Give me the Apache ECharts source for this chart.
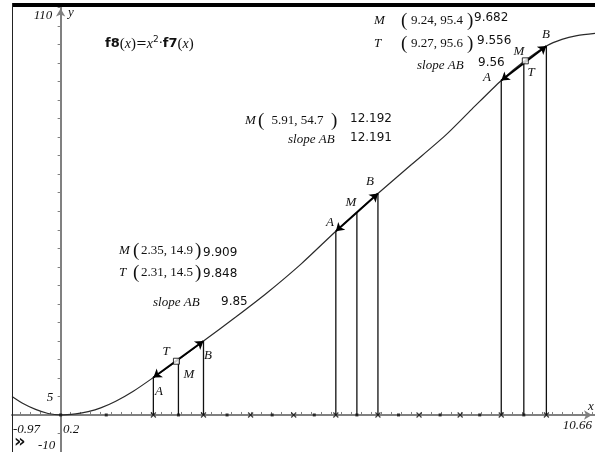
<!DOCTYPE html>
<html>
<head>
<meta charset="utf-8">
<script src="https://cdn.jsdelivr.net/npm/echarts/dist/echarts.min.js"></script>
<style>
  html, body { margin: 0; padding: 0; background: #fff; }
  #c { width: 595px; height: 452px; }
</style>
</head>
<body>
<div id="c"></div>
<script>
// f8(x) = x^2 * f7(x), sampled across the window
const curveX = [-0.97, -0.75, -0.5, -0.25, 0, 0.3, 0.55, 0.8, 1.1, 1.45, 1.85, 2.35, 2.85, 3.5, 4.12, 4.8, 5.49, 5.91, 6.33, 7.0, 7.67, 8.2, 8.79, 9.24, 9.69, 10.0, 10.3, 10.66];
const curveY = [5.0, 3.1, 1.5, 0.4, 0, 0.3, 0.9, 1.9, 3.7, 6.4, 10.1, 14.9, 19.95, 26.5, 33.0, 40.8, 49.6, 54.7, 59.8, 67.6, 75.4, 82.5, 90.3, 95.4, 99.6, 101.4, 102.4, 103.0];

// secant end points A, B and midpoints M at the three spots
const pointAx = [1.85, 5.49, 8.79];
const pointAy = [10.1, 49.6, 90.3];
const pointBx = [2.85, 6.33, 9.69];
const pointBy = [19.95, 59.8, 99.6];
const pointMx = [2.35, 5.91, 9.24];
const pointMy = [14.9, 54.7, 95.4];

// tangent points T (slope equal to slope AB)
const pointTx = [2.31, 9.27];
const pointTy = [14.5, 95.6];

// step marks along the x-axis
const dotMarks = [0, 0.91, 2.35, 3.32, 4.22, 5.06, 5.91, 6.74, 7.57, 8.36, 9.24];
const crossMarks = [1.85, 2.85, 3.79, 4.65, 5.49, 6.33, 7.15, 7.97, 8.79, 9.69];

// window and scale
const xMin = -0.97, xMax = 10.66, yMin = -10, yMax = 110;
const xScale = 0.2, yScale = 5;

// tick values every xScale, anchored at the origin
const xTicks = [];
for (let k = Math.ceil(xMin / xScale); k * xScale <= xMax; k++) xTicks.push(+(k * xScale).toFixed(2));

const chart = echarts.init(document.getElementById('c'), null, { renderer: 'canvas' });

const curveData = curveX.map((x, i) => [x, curveY[i]]);
const dropData = [];
for (let i = 0; i < pointAx.length; i++) {
  dropData.push([pointAx[i], pointAy[i]], [pointMx[i], pointMy[i]], [pointBx[i], pointBy[i]]);
}
const secantData = pointAx.map((x, i) => ({ coords: [[x, pointAy[i]], [pointBx[i], pointBy[i]]] }));

const serifIt = 'italic 13px "Liberation Serif", "DejaVu Serif", serif';
const serif = '13px "Liberation Serif", "DejaVu Serif", serif';
const paren = '19px "Liberation Serif", "DejaVu Serif", serif';
const sans = '12px "DejaVu Sans", sans-serif';

function txt(text, x, y, font, align) {
  return {
    type: 'text', x: x, y: y, z: 20,
    style: { text: text, font: font, fill: '#111', align: align || 'left', verticalAlign: 'middle' }
  };
}
// "M ( x, y ) value" row; pl / pr are the left and right bracket positions
function coordRow(label, coords, valueText, x, y, pl, pr, vx, vy) {
  return [
    txt(label, x, y, serifIt),
    txt('(', pl, y, paren),
    txt(coords, (pl + pr) / 2 + 3, y, serif, 'center'),
    txt(')', pr, y, paren),
    txt(valueText, vx, vy, sans)
  ];
}

const labels = [].concat(
  // window bounds and scales
  [
    txt('110', 43, 16, serifIt, 'center'),
    txt('y', 71, 13, serifIt, 'center'),
    txt('5', 50, 398, serifIt, 'center'),
    txt('-0.97', 13, 430, serifIt),
    txt('0.2', 63, 430, serifIt),
    txt('-10', 38, 446, serifIt),
    txt('x', 591, 407, serifIt, 'center'),
    txt('10.66', 592, 426, serifIt, 'right'),
    {
      type: 'text', x: 14, y: 442, z: 20,
      style: { text: '»', font: 'bold 18px "DejaVu Sans", sans-serif', fill: '#111', verticalAlign: 'middle' }
    },
    {
      type: 'text', x: 105, y: 44, z: 20,
      style: {
        text: '{b|f8}{p|(}{i|x}{p|)}{n|=}{i|x}{s|2}{n|·}{b|f7}{p|(}{i|x}{p|)}',
        verticalAlign: 'middle',
        rich: {
          b: { font: 'bold 13px "DejaVu Sans", sans-serif', fill: '#111' },
          p: { font: '15px "Liberation Serif", serif', fill: '#111' },
          i: { font: 'italic 14px "Liberation Serif", serif', fill: '#111' },
          n: { font: '13px "DejaVu Sans", sans-serif', fill: '#111' },
          s: { font: '9px "DejaVu Sans", sans-serif', fill: '#111', padding: [0, 0, 9, 0] }
        }
      }
    }
  ],
  // lower spot
  coordRow('M', '2.35, 14.9', '9.909', 119, 251, 133, 195, 203, 253),
  coordRow('T', '2.31, 14.5', '9.848', 119, 273, 133, 195, 203, 274),
  [txt('slope AB', 153, 303, serifIt), txt('9.85', 221, 302, sans)],
  [
    txt('T', 166, 352, serifIt, 'center'),
    txt('M', 189, 375, serifIt, 'center'),
    txt('A', 159, 392, serifIt, 'center'),
    txt('B', 208, 356, serifIt, 'center')
  ],
  // middle spot
  coordRow('M', '5.91, 54.7', '12.192', 245, 121, 258, 331, 350, 119),
  [txt('slope AB', 288, 140, serifIt), txt('12.191', 350, 138, sans)],
  [
    txt('A', 330, 223, serifIt, 'center'),
    txt('M', 351, 203, serifIt, 'center'),
    txt('B', 370, 182, serifIt, 'center')
  ],
  // upper spot
  coordRow('M', '9.24, 95.4', '9.682', 374, 21, 401, 467, 474, 18),
  coordRow('T', '9.27, 95.6', '9.556', 374, 44, 401, 467, 477, 41),
  [txt('slope AB', 417, 66, serifIt), txt('9.56', 478, 63, sans)],
  [
    txt('A', 487, 78, serifIt, 'center'),
    txt('M', 519, 52, serifIt, 'center'),
    txt('T', 531, 73, serifIt, 'center'),
    txt('B', 546, 35, serifIt, 'center')
  ],
  // screen frame
  [
    { type: 'rect', z: 30, shape: { x: 12, y: 3, width: 583, height: 4 }, style: { fill: '#000' } },
    { type: 'line', z: 30, shape: { x1: 12.5, y1: 3, x2: 12.5, y2: 452 }, style: { stroke: '#222', lineWidth: 1 } }
  ]
);

const option = {
  animation: false,
  backgroundColor: '#fff',
  grid: { left: 12, right: -1, top: 7.5, bottom: -2, containLabel: false },
  xAxis: {
    type: 'value', min: xMin, max: xMax,
    splitLine: { show: false },
    axisLabel: { show: false },
    axisLine: { onZero: true, symbol: ['none', 'arrow'], symbolSize: [7, 8], symbolOffset: [0, -3],
      lineStyle: { color: '#808080', width: 2 } },
    axisTick: { show: true, customValues: xTicks, length: 3, inside: true, lineStyle: { color: '#808080', width: 1 } }
  },
  yAxis: {
    type: 'value', min: yMin, max: yMax, interval: yScale,
    splitLine: { show: false },
    axisLabel: { show: false },
    axisLine: { onZero: true, symbol: ['none', 'arrow'], symbolSize: [7, 8], symbolOffset: [0, -1],
      lineStyle: { color: '#808080', width: 2 } },
    axisTick: { show: true, length: 3, lineStyle: { color: '#808080', width: 1 } }
  },
  graphic: labels,
  series: [
    {
      name: 'f8', type: 'line', data: curveData, showSymbol: false,
      smooth: 0.25, clip: true,
      lineStyle: { color: '#2a2a2a', width: 1.2 }, z: 3
    },
    {
      name: 'drop lines', type: 'custom', data: dropData, z: 4,
      renderItem: function (params, api) {
        const x = api.value(0), y = api.value(1);
        const p0 = api.coord([x, 0]);
        const p1 = api.coord([x, y]);
        return {
          type: 'line',
          shape: { x1: p0[0], y1: p0[1], x2: p1[0], y2: p1[1] },
          style: { stroke: '#111', lineWidth: 1.3 }
        };
      }
    },
    {
      name: 'secant AB', type: 'lines', coordinateSystem: 'cartesian2d', data: secantData, z: 5,
      symbol: ['arrow', 'arrow'], symbolSize: 8,
      lineStyle: { color: '#000', width: 2, opacity: 1 }
    },
    {
      name: 'dots', type: 'scatter', data: dotMarks.map(x => [x, 0]), z: 6,
      symbol: 'rect', symbolSize: 3, itemStyle: { color: '#111' }
    },
    {
      name: 'crosses', type: 'scatter', data: crossMarks.map(x => [x, 0]), z: 6,
      symbol: 'path://M0,0L10,10M10,0L0,10', symbolSize: 5,
      itemStyle: { color: 'none', borderColor: '#111', borderWidth: 1.2 }
    },
    {
      name: 'T', type: 'scatter', data: pointTx.map((x, i) => [x, pointTy[i]]), z: 7,
      symbol: 'rect', symbolSize: 6,
      itemStyle: { color: '#fff', borderColor: '#000', borderWidth: 1 }
    }
  ]
};

chart.setOption(option);
</script>
</body>
</html>
